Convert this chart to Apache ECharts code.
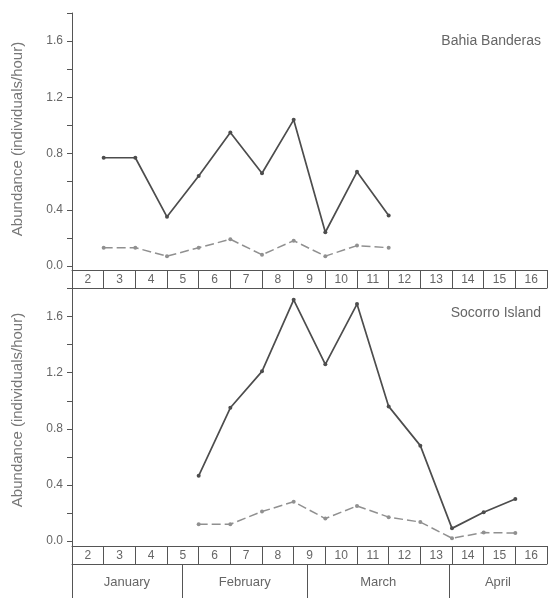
<!DOCTYPE html>
<html><head><meta charset="utf-8">
<script src="https://cdn.jsdelivr.net/npm/echarts@6/dist/echarts.min.js"></script>
<style>html,body{margin:0;padding:0;background:#fff}#c{width:548px;height:598px}</style>
</head><body><div id="c"></div>
<script>
// ---- data ----
const weekLabels = ['2','3','4','5','6','7','8','9','10','11','12','13','14','15','16'];
const months = ['January','February','March','April'];
const monthBreaks = [4.47, 8.44, 12.9];           // month boundaries, in week units
const yTickValues = [0,0.2,0.4,0.6,0.8,1.0,1.2,1.4,1.6,1.8];
const yLabelValues = [0,0.4,0.8,1.2,1.6];
const bahiaWeeks = [2,3,4,5,6,7,8,9,10,11];
const bahiaUpper = [0.77,0.77,0.35,0.64,0.95,0.66,1.04,0.24,0.67,0.36];
const bahiaLower = [0.13,0.13,0.07,0.13,0.19,0.08,0.18,0.07,0.145,0.13];
const socorroWeeks = [5,6,7,8,9,10,11,12,13,14,15];
const socorroUpper = [0.465,0.95,1.21,1.72,1.26,1.69,0.96,0.68,0.09,0.205,0.30];
const socorroLower = [0.12,0.12,0.21,0.28,0.16,0.25,0.17,0.135,0.02,0.06,0.057];
const panelNames = ['Bahia Banderas','Socorro Island'];
const yTitle = 'Abundance (individuals/hour)';

// ---- build ----
const FONT = 'Liberation Sans';
const TXT = '#666';
const LINE = '#555';
const xMin = 1, xMax = weekLabels.length + 1;
const weekTicks = []; for (let i = xMin; i <= xMax; i++) weekTicks.push(i);
const weekLabelPos = weekLabels.map((_, i) => i + 1.5);
const monthEdges = [xMin, ...monthBreaks, xMax];
const monthCenters = months.map((_, i) => (monthEdges[i] + monthEdges[i + 1]) / 2);

function nearestIdx(arr, v) {
  let b = 0; for (let i = 1; i < arr.length; i++) if (Math.abs(arr[i] - v) < Math.abs(arr[b] - v)) b = i; return b;
}

function weekAxis(gridIndex, offset) {
  return {
    type: 'value', gridIndex, min: xMin, max: xMax, position: 'bottom', offset,
    axisLine: { show: true, onZero: false, lineStyle: { color: LINE, width: 1 } },
    axisTick: { show: true, customValues: weekTicks, length: 18, lineStyle: { color: LINE, width: 1 } },
    axisLabel: { show: true, customValues: weekLabelPos, margin: 4, fontSize: 12, color: TXT, fontFamily: FONT,
      formatter: v => weekLabels[nearestIdx(weekLabelPos, v)] },
    splitLine: { show: false }
  };
}
function plainAxis(gridIndex, offset) {
  return {
    type: 'value', gridIndex, min: xMin, max: xMax, position: 'bottom', offset,
    axisLine: { show: true, onZero: false, lineStyle: { color: LINE, width: 1 } },
    axisTick: { show: false }, axisLabel: { show: false }, splitLine: { show: false }
  };
}
function monthAxis(gridIndex, offset) {
  return {
    type: 'value', gridIndex, min: xMin, max: xMax, position: 'bottom', offset,
    axisLine: { show: true, onZero: false, lineStyle: { color: LINE, width: 1 } },
    axisTick: { show: true, customValues: monthBreaks, length: 34, lineStyle: { color: LINE, width: 1 } },
    axisLabel: { show: true, customValues: monthCenters, margin: 12, fontSize: 13, color: TXT, fontFamily: FONT,
      formatter: v => months[nearestIdx(monthCenters, v)] },
    splitLine: { show: false }
  };
}
function yAxis(gridIndex, min) {
  return {
    type: 'value', gridIndex, min, max: 1.8,
    axisLine: { show: true, onZero: false, lineStyle: { color: LINE, width: 1 } },
    axisTick: { show: true, customValues: yTickValues, length: 5, lineStyle: { color: LINE, width: 1 } },
    axisLabel: { show: true, customValues: yLabelValues, margin: 9, fontSize: 12, color: TXT, fontFamily: FONT,
      formatter: v => v.toFixed(1) },
    splitLine: { show: false }
  };
}
function series(name, weeks, vals, xi, yi, upper) {
  return {
    name, type: 'line', xAxisIndex: xi, yAxisIndex: yi,
    data: weeks.map((w, i) => [w, vals[i]]),
    symbol: 'circle', symbolSize: 4, showSymbol: true,
    lineStyle: upper ? { color: '#4d4d4d', width: 1.7 } : { color: '#909090', width: 1.5, type: [9, 4] },
    itemStyle: { color: upper ? '#4d4d4d' : '#909090' },
    animation: false, z: upper ? 3 : 2
  };
}

const chart = echarts.init(document.getElementById('c'), null, { renderer: 'canvas' });
chart.setOption({
  backgroundColor: '#fff',
  animation: false,
  grid: [
    { left: 72, width: 475, top: 13, height: 276 },
    { left: 72, width: 475, top: 288.6, height: 309.4 }
  ],
  title: [
    { text: panelNames[0], right: 2, top: 29, textStyle: { fontSize: 14, fontWeight: 'normal', color: TXT, fontFamily: FONT } },
    { text: panelNames[1], right: 2, top: 301, textStyle: { fontSize: 14, fontWeight: 'normal', color: TXT, fontFamily: FONT } }
  ],
  xAxis: [
    weekAxis(0, -19),
    plainAxis(0, -1),
    weekAxis(1, -52),
    monthAxis(1, -34)
  ],
  yAxis: [
    yAxis(0, -0.1637),
    yAxis(1, -0.4066)
  ],
  graphic: [
    { type: 'text', x: 18, y: 139, rotation: Math.PI / 2,
      style: { text: yTitle, textAlign: 'center', textVerticalAlign: 'middle', align: 'center', verticalAlign: 'middle', fontSize: 15, fill: '#777', fontFamily: FONT } },
    { type: 'text', x: 18, y: 410, rotation: Math.PI / 2,
      style: { text: yTitle, textAlign: 'center', textVerticalAlign: 'middle', align: 'center', verticalAlign: 'middle', fontSize: 15, fill: '#777', fontFamily: FONT } }
  ],
  series: [
    series('Bahia upper', bahiaWeeks, bahiaUpper, 0, 0, true),
    series('Bahia lower', bahiaWeeks, bahiaLower, 0, 0, false),
    series('Socorro upper', socorroWeeks, socorroUpper, 2, 1, true),
    series('Socorro lower', socorroWeeks, socorroLower, 2, 1, false)
  ]
});
</script></body></html>
